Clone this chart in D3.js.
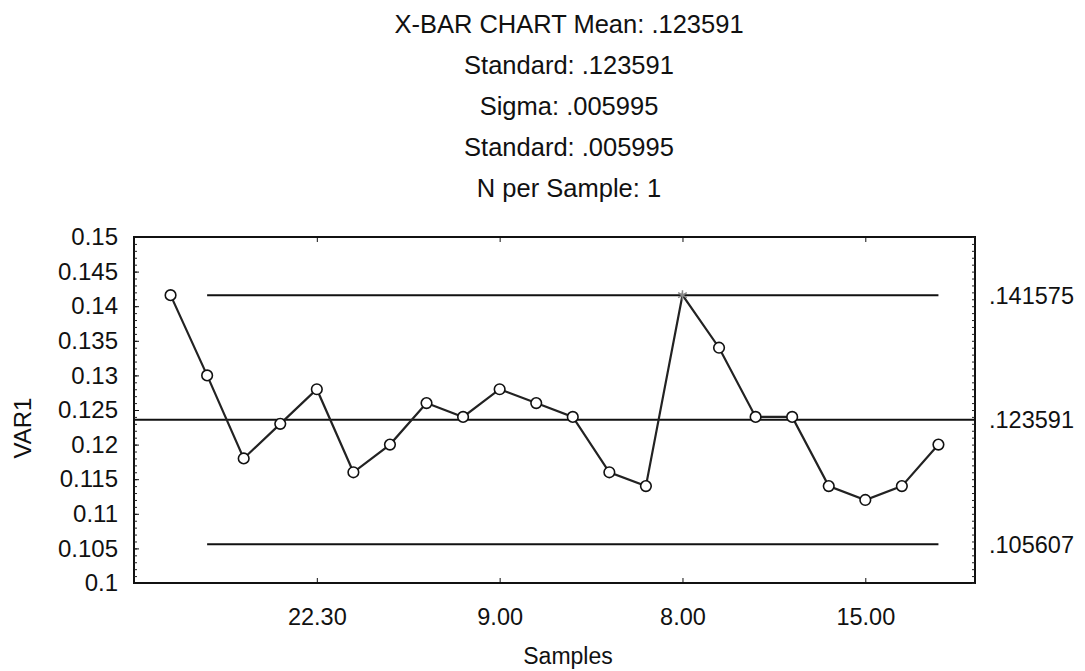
<!DOCTYPE html>
<html>
<head>
<meta charset="utf-8">
<script src="https://cdn.jsdelivr.net/npm/d3@7"></script>
<style>
  html, body { margin: 0; padding: 0; background: #fff; }
  svg { display: block; }
  text { font-family: "Liberation Sans", Arial, sans-serif; fill: #111; }
</style>
</head>
<body>
<svg id="chart" width="1085" height="671"></svg>
<script>
// ---------------- data ----------------
const titleLines = [
  "X-BAR CHART Mean: .123591",
  "Standard: .123591",
  "Sigma: .005995",
  "Standard: .005995",
  "N per Sample: 1"
];
const samples = [1, 2, 3, 4, 5, 6, 7, 8, 9, 10, 11, 12, 13, 14, 15, 16, 17, 18, 19, 20, 21, 22];
const values  = [0.1416, 0.130, 0.118, 0.123, 0.128, 0.116, 0.120, 0.126, 0.124, 0.128, 0.126,
                 0.124, 0.116, 0.114, 0.1416, 0.134, 0.124, 0.124, 0.114, 0.112, 0.114, 0.120];
const outOfControl = [15];
const xTickSamples = [5, 10, 15, 20];
const xTickLabels = ["22.30", "9.00", "8.00", "15.00"];
const yTicks = [0.1, 0.105, 0.11, 0.115, 0.12, 0.125, 0.13, 0.135, 0.14, 0.145, 0.15];
const limitValues = [0.141575, 0.123591, 0.105607];
const limitLabels = [".141575", ".123591", ".105607"];
const limitSpan = [[2, 22], [0, 23], [2, 22]];
const xLabel = "Samples";
const yLabel = "VAR1";

// ---------------- layout ----------------
const svg = d3.select("#chart");
const L = 134, R = 975, T = 237, B = 583;

const x = d3.scaleLinear().domain([0, 23]).range([L, R]);
const y = d3.scaleLinear().domain([0.1, 0.15]).range([B, T]);

// title
svg.append("g").selectAll("text").data(titleLines).join("text")
  .attr("x", 569).attr("y", (d, i) => 33 + i * 41)
  .attr("text-anchor", "middle").attr("font-size", 25.5)
  .text(d => d);

// frame
svg.append("rect").attr("x", L).attr("y", T).attr("width", R - L).attr("height", B - T)
  .attr("fill", "none").attr("stroke", "#111").attr("stroke-width", 2);

// minor ticks left and right
const minor = d3.range(0.1, 0.1501, 0.001);
svg.append("g").attr("transform", `translate(${L},0)`)
  .call(d3.axisRight(y).tickValues(minor).tickSize(3).tickFormat(""))
  .call(g => g.select(".domain").remove())
  .selectAll("line").attr("stroke", "#222");
svg.append("g").attr("transform", `translate(${R},0)`)
  .call(d3.axisLeft(y).tickValues(minor).tickSize(3).tickFormat(""))
  .call(g => g.select(".domain").remove())
  .selectAll("line").attr("stroke", "#222");

// y axis major labels
const yAx = svg.append("g").attr("transform", `translate(${L},0)`)
  .call(d3.axisLeft(y).tickValues(yTicks).tickSize(-5).tickPadding(16)
    .tickFormat(d => String(+d.toFixed(3))));
yAx.select(".domain").remove();
yAx.selectAll("line").attr("stroke", "#111");
yAx.selectAll("text").attr("font-size", 24).attr("font-family", "Liberation Sans, Arial, sans-serif").attr("fill", "#111");

// x axis bottom
const xAx = svg.append("g").attr("transform", `translate(0,${B})`)
  .call(d3.axisBottom(x).tickValues(xTickSamples).tickSize(-5).tickPadding(25)
    .tickFormat((d, i) => xTickLabels[i]));
xAx.select(".domain").remove();
xAx.selectAll("line").attr("stroke", "#111");
xAx.selectAll("text").attr("font-size", 23.5).attr("font-family", "Liberation Sans, Arial, sans-serif").attr("fill", "#111");

// x axis top ticks
const xTop = svg.append("g").attr("transform", `translate(0,${T})`)
  .call(d3.axisTop(x).tickValues(xTickSamples).tickSize(-5).tickFormat(""));
xTop.select(".domain").remove();
xTop.selectAll("line").attr("stroke", "#111");

// control limit lines
svg.append("g").selectAll("line").data(limitValues).join("line")
  .attr("x1", (d, i) => x(limitSpan[i][0])).attr("x2", (d, i) => x(limitSpan[i][1]))
  .attr("y1", d => y(d)).attr("y2", d => y(d))
  .attr("stroke", "#111").attr("stroke-width", 2);

// right labels
svg.append("g").selectAll("text").data(limitLabels).join("text")
  .attr("x", 989).attr("y", (d, i) => y(limitValues[i]))
  .attr("dy", "0.36em").attr("font-size", 23.5)
  .text(d => d);

// series line
const line = d3.line().x((d, i) => x(samples[i])).y(d => y(d));
svg.append("path").datum(values).attr("d", line)
  .attr("fill", "none").attr("stroke", "#222").attr("stroke-width", 2.2);

// markers
const pts = samples.map((s, i) => ({ s, v: values[i] }));
svg.append("g").selectAll("circle").data(pts.filter(p => !outOfControl.includes(p.s))).join("circle")
  .attr("cx", d => x(d.s)).attr("cy", d => y(d.v)).attr("r", 5.3)
  .attr("fill", "#fff").attr("stroke", "#111").attr("stroke-width", 1.6);
svg.append("g").selectAll("path").data(pts.filter(p => outOfControl.includes(p.s))).join("path")
  .attr("transform", d => `translate(${x(d.s)},${y(d.v)})`)
  .attr("d", d3.symbol(d3.symbolAsterisk, 70))
  .attr("fill", "none").attr("stroke", "#888").attr("stroke-width", 1.5);

// axis titles
svg.append("text").attr("x", 568).attr("y", 664).attr("text-anchor", "middle")
  .attr("font-size", 23).text(xLabel);
svg.append("text").attr("transform", "translate(31,428) rotate(-90)")
  .attr("text-anchor", "middle").attr("font-size", 24).text(yLabel);
</script>
</body>
</html>
